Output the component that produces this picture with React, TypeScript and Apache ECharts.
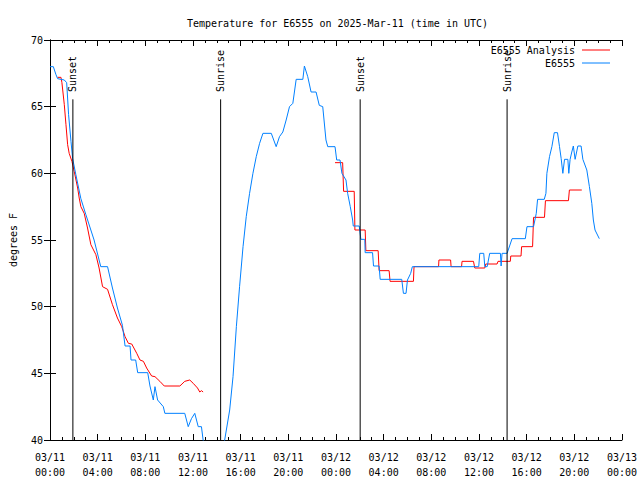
import React, { useEffect, useRef } from "react";
import * as echarts from "echarts";

// hours since 2025-03-11 00:00 UTC
const obsHours = [
  0, 0.28, 0.5, 0.64, 1.2, 1.4, 1.56, 1.76, 1.9, 2.17, 2.59, 3.01, 3.7, 4.26, 4.83, 5.24, 5.66, 6.08,
  6.3, 6.72, 6.8, 7.19, 7.36, 8.2, 8.39, 8.67, 8.81, 9.03, 9.51, 9.64, 11.31, 11.6, 11.87, 12.15,
  12.44, 12.71, 12.85, 13.3, 13.9, 14.3, 14.66, 15.08, 15.36, 15.64, 15.91, 16.2, 16.47, 16.75,
  17.03, 17.31, 17.59, 17.87, 18.57, 18.98, 19.26, 19.54, 19.82, 20.1, 20.38, 20.66, 21.22, 21.35,
  21.63, 21.91, 22.33, 22.6, 22.89, 23.16, 23.31, 23.92, 24.06, 24.34, 24.5, 24.84, 24.98, 25.2,
  25.4, 25.45, 25.95, 26.09, 26.42, 26.45, 27.07, 27.15, 27.62, 27.71, 29.52, 29.66, 29.88, 30.0,
  30.27, 30.41, 35.98, 36.07, 36.4, 36.49, 36.69, 36.9, 37.8, 37.86, 37.94, 38.36, 38.78, 39.89,
  40.03, 40.58, 40.81, 40.92, 41.48, 41.62, 41.7, 41.92, 42.12, 42.32, 42.59, 42.76, 42.9, 43.04,
  43.18, 43.46, 43.54, 43.65, 43.79, 43.92, 44.07, 44.3, 44.57, 44.72, 45.05, 45.27, 45.47, 45.6,
  45.74, 46.1,
];
const obsTemps = [
  68.0, 68.0, 67.4, 67.1, 67.0, 66.8, 64.4, 62.4, 61.1, 59.9, 58.1, 56.9, 55.0, 53.0, 53.0, 51.4, 49.9, 48.6,
  47.05, 47.05, 46.0, 46.0, 45.05, 45.05, 44.05, 43.0, 44.0, 43.0, 42.5, 42.0, 42.0, 41.0, 41.6, 42.0,
  41.0, 41.0, 40.0, 38.5, 37.8, 38.7, 40.0, 42.25, 44.75, 48.5, 51.5, 54.5, 56.75, 58.5,
  60.0, 61.25, 62.25, 63.0, 63.0, 62.0, 62.75, 63.1, 64.0, 65.0, 65.25, 67.05, 67.05, 68.05,
  67.25, 66.1, 66.1, 65.1, 65.0, 62.5, 62.0, 62.0, 61.0, 61.0, 60.0, 59.5, 58.5, 57.5,
  56.5, 56.05, 56.05, 55.05, 55.05, 54.05, 54.05, 53.05, 53.05, 52.05, 52.05, 51.0, 51.0, 52.0,
  52.5, 53.0, 53.0, 54.0, 54.0, 53.0, 53.0, 54.0, 54.0, 53.05, 54.0, 54.0, 55.1, 55.1,
  56.0, 56.0, 57.0, 58.05, 58.05, 58.5, 60.0, 61.25, 62.0, 63.05, 63.05, 62.0, 61.1, 60.0,
  61.05, 61.05, 60.0, 61.05, 61.6, 62.05, 61.05, 62.05, 62.05, 61.05, 60.25, 59.0, 57.75, 56.5,
  55.75, 55.1,
];

const anaHours = [
  0.64, 0.92, 1.0, 1.2, 1.34, 1.48, 1.61, 1.84, 2.03, 2.32, 2.45, 2.59, 2.87, 3.15, 3.43, 3.85,
  4.12, 4.41, 4.83, 5.24, 5.66, 6.02, 6.3, 6.58, 6.86, 7.28, 7.55, 7.84, 8.11, 8.53, 8.81, 9.22,
  9.59, 10.9, 11.31, 11.73, 12.02, 12.38, 12.57, 12.71, 12.85, 18.0,
  23.92, 24.56, 24.64, 25.53, 25.59, 26.45, 26.51, 27.54, 27.62, 28.46, 28.54, 30.5, 30.55, 32.61,
  32.64, 33.62, 33.66, 34.54, 34.58, 35.54, 35.65, 36.49, 36.57, 37.52, 37.6, 38.63, 38.67, 39.53,
  39.58, 40.5, 40.58, 41.5, 41.58, 43.51, 43.59, 44.63,
];
const anaTemps: (number | null)[] = [
  67.2, 67.2, 66.8, 65.15, 63.65, 62.15, 61.5, 60.9, 60.15, 58.9, 58.15, 57.5, 57.0, 55.9, 54.65, 53.9,
  52.9, 51.5, 51.3, 50.15, 49.15, 48.5, 47.75, 47.25, 47.2, 46.5, 46.0, 45.9, 45.4, 44.8, 44.75, 44.4,
  44.05, 44.05, 44.4, 44.5, 44.25, 43.9, 43.6, 43.7, 43.6, null,
  60.8, 60.8, 58.65, 58.65, 55.75, 55.75, 54.2, 54.2, 52.7, 52.7, 51.9, 51.9, 53.0, 53.0,
  53.5, 53.5, 53.0, 53.0, 53.4, 53.4, 52.9, 52.9, 53.2, 53.2, 53.4, 53.4, 53.8, 53.8,
  54.5, 54.5, 56.7, 56.7, 57.95, 57.95, 58.75, 58.75,
];

const eventHours = [1.92, 14.32, 26.03, 38.36];
const eventNames = ["Sunset", "Sunrise", "Sunset", "Sunrise"];

const seriesNames = ["E6555 Analysis", "E6555"];
const seriesColors = ["#ff0000", "#0080ff"];
const titleText = "Temperature for E6555 on 2025-Mar-11 (time in UTC)";
const yAxisName = "degrees F";

const FONT = "DejaVu Sans Mono";

function fmtHour(h: number): string {
  const day = 11 + Math.floor(h / 24);
  const hh = Math.round(h % 24);
  return `03/${String(day).padStart(2, "0")}\n${String(hh).padStart(2, "0")}:00`;
}

export default function App() {
  const ref = useRef<HTMLDivElement>(null);
  useEffect(() => {
    if (!ref.current) return;
    const chart = echarts.init(ref.current, null, { renderer: "svg" });
    const obsData = obsHours.map((h, i) => [h, obsTemps[i]]);
    const anaData = anaHours.map((h, i) => [h, anaTemps[i] === null ? "-" : anaTemps[i]]);
    const evData = eventHours.map((h) => [h]);
    const tick = { inside: true, length: 6, lineStyle: { color: "#000", width: 1 } };
    const minor = { show: true, splitNumber: 4, length: 3, lineStyle: { color: "#000", width: 1 } };
    const axLine = { show: true, lineStyle: { color: "#000", width: 1 } };
    chart.setOption({
      animation: false,
      backgroundColor: "#fff",
      title: {
        text: titleText,
        left: 182,
        top: 13,
        textStyle: { fontFamily: FONT, fontSize: 10, fontWeight: "normal", color: "#000" },
      },
      grid: { left: 47, right: 18, top: 40, bottom: 40 },
      xAxis: [
        {
          type: "value",
          min: 0,
          max: 48,
          interval: 4,
          position: "bottom",
          axisLine: axLine,
          axisTick: tick,
          minorTick: minor,
          splitLine: { show: false },
          axisLabel: {
            formatter: (v: number) => fmtHour(v),
            fontFamily: FONT,
            fontSize: 10,
            color: "#000",
            margin: 10,
            lineHeight: 15,
          },
        },
        {
          type: "value",
          min: 0,
          max: 48,
          interval: 4,
          position: "top",
          axisLine: axLine,
          axisTick: tick,
          minorTick: minor,
          splitLine: { show: false },
          axisLabel: { show: false },
        },
      ],
      yAxis: [
        {
          type: "value",
          min: 40,
          max: 70,
          interval: 5,
          position: "left",
          name: yAxisName,
          nameLocation: "middle",
          nameGap: 32,
          nameTextStyle: { fontFamily: FONT, fontSize: 10, color: "#000" },
          axisLine: axLine,
          axisTick: tick,
          splitLine: { show: false },
          axisLabel: { fontFamily: FONT, fontSize: 10, color: "#000", margin: 7 },
        },
        {
          type: "value",
          min: 40,
          max: 70,
          interval: 5,
          position: "right",
          axisLine: axLine,
          axisTick: tick,
          splitLine: { show: false },
          axisLabel: { show: false },
        },
      ],
      series: [
        {
          name: seriesNames[0],
          type: "line",
          data: anaData,
          showSymbol: false,
          connectNulls: false,
          lineStyle: { color: seriesColors[0], width: 1 },
          itemStyle: { color: seriesColors[0] },
          z: 2,
        },
        {
          name: seriesNames[1],
          type: "line",
          data: obsData,
          showSymbol: false,
          lineStyle: { color: seriesColors[1], width: 1 },
          itemStyle: { color: seriesColors[1] },
          z: 3,
        },
        {
          type: "custom",
          data: evData,
          encode: { x: 0 },
          z: 4,
          renderItem: (params: any, api: any) => {
            const h = api.value(0);
            const p0 = api.coord([h, 40]);
            const p1 = api.coord([h, 65.55]);
            const pt = api.coord([h, 66.1]);
            return {
              type: "group",
              children: [
                {
                  type: "line",
                  shape: { x1: p0[0], y1: p0[1], x2: p1[0], y2: p1[1] },
                  style: { stroke: "#000", lineWidth: 1 },
                },
                {
                  type: "text",
                  x: pt[0],
                  y: pt[1],
                  rotation: Math.PI / 2,
                  style: {
                    text: eventNames[params.dataIndex],
                    fill: "#000",
                    font: `10px '${FONT}'`,
                    align: "left",
                    verticalAlign: "middle",
                  },
                },
              ],
            };
          },
        },
      ],
      graphic: [
        {
          type: "text",
          x: 575,
          y: 50,
          style: { text: seriesNames[0], fill: "#000", font: `10px '${FONT}'`, align: "right", verticalAlign: "middle" },
        },
        {
          type: "line",
          shape: { x1: 582, y1: 50, x2: 610, y2: 50 },
          style: { stroke: seriesColors[0], lineWidth: 1 },
        },
        {
          type: "text",
          x: 575,
          y: 63,
          style: { text: seriesNames[1], fill: "#000", font: `10px '${FONT}'`, align: "right", verticalAlign: "middle" },
        },
        {
          type: "line",
          shape: { x1: 582, y1: 63, x2: 610, y2: 63 },
          style: { stroke: seriesColors[1], lineWidth: 1 },
        },
      ],
    });
    return () => chart.dispose();
  }, []);
  return <div ref={ref} style={{ position: "fixed", left: 0, top: 0, width: 640, height: 480 }} />;
}
